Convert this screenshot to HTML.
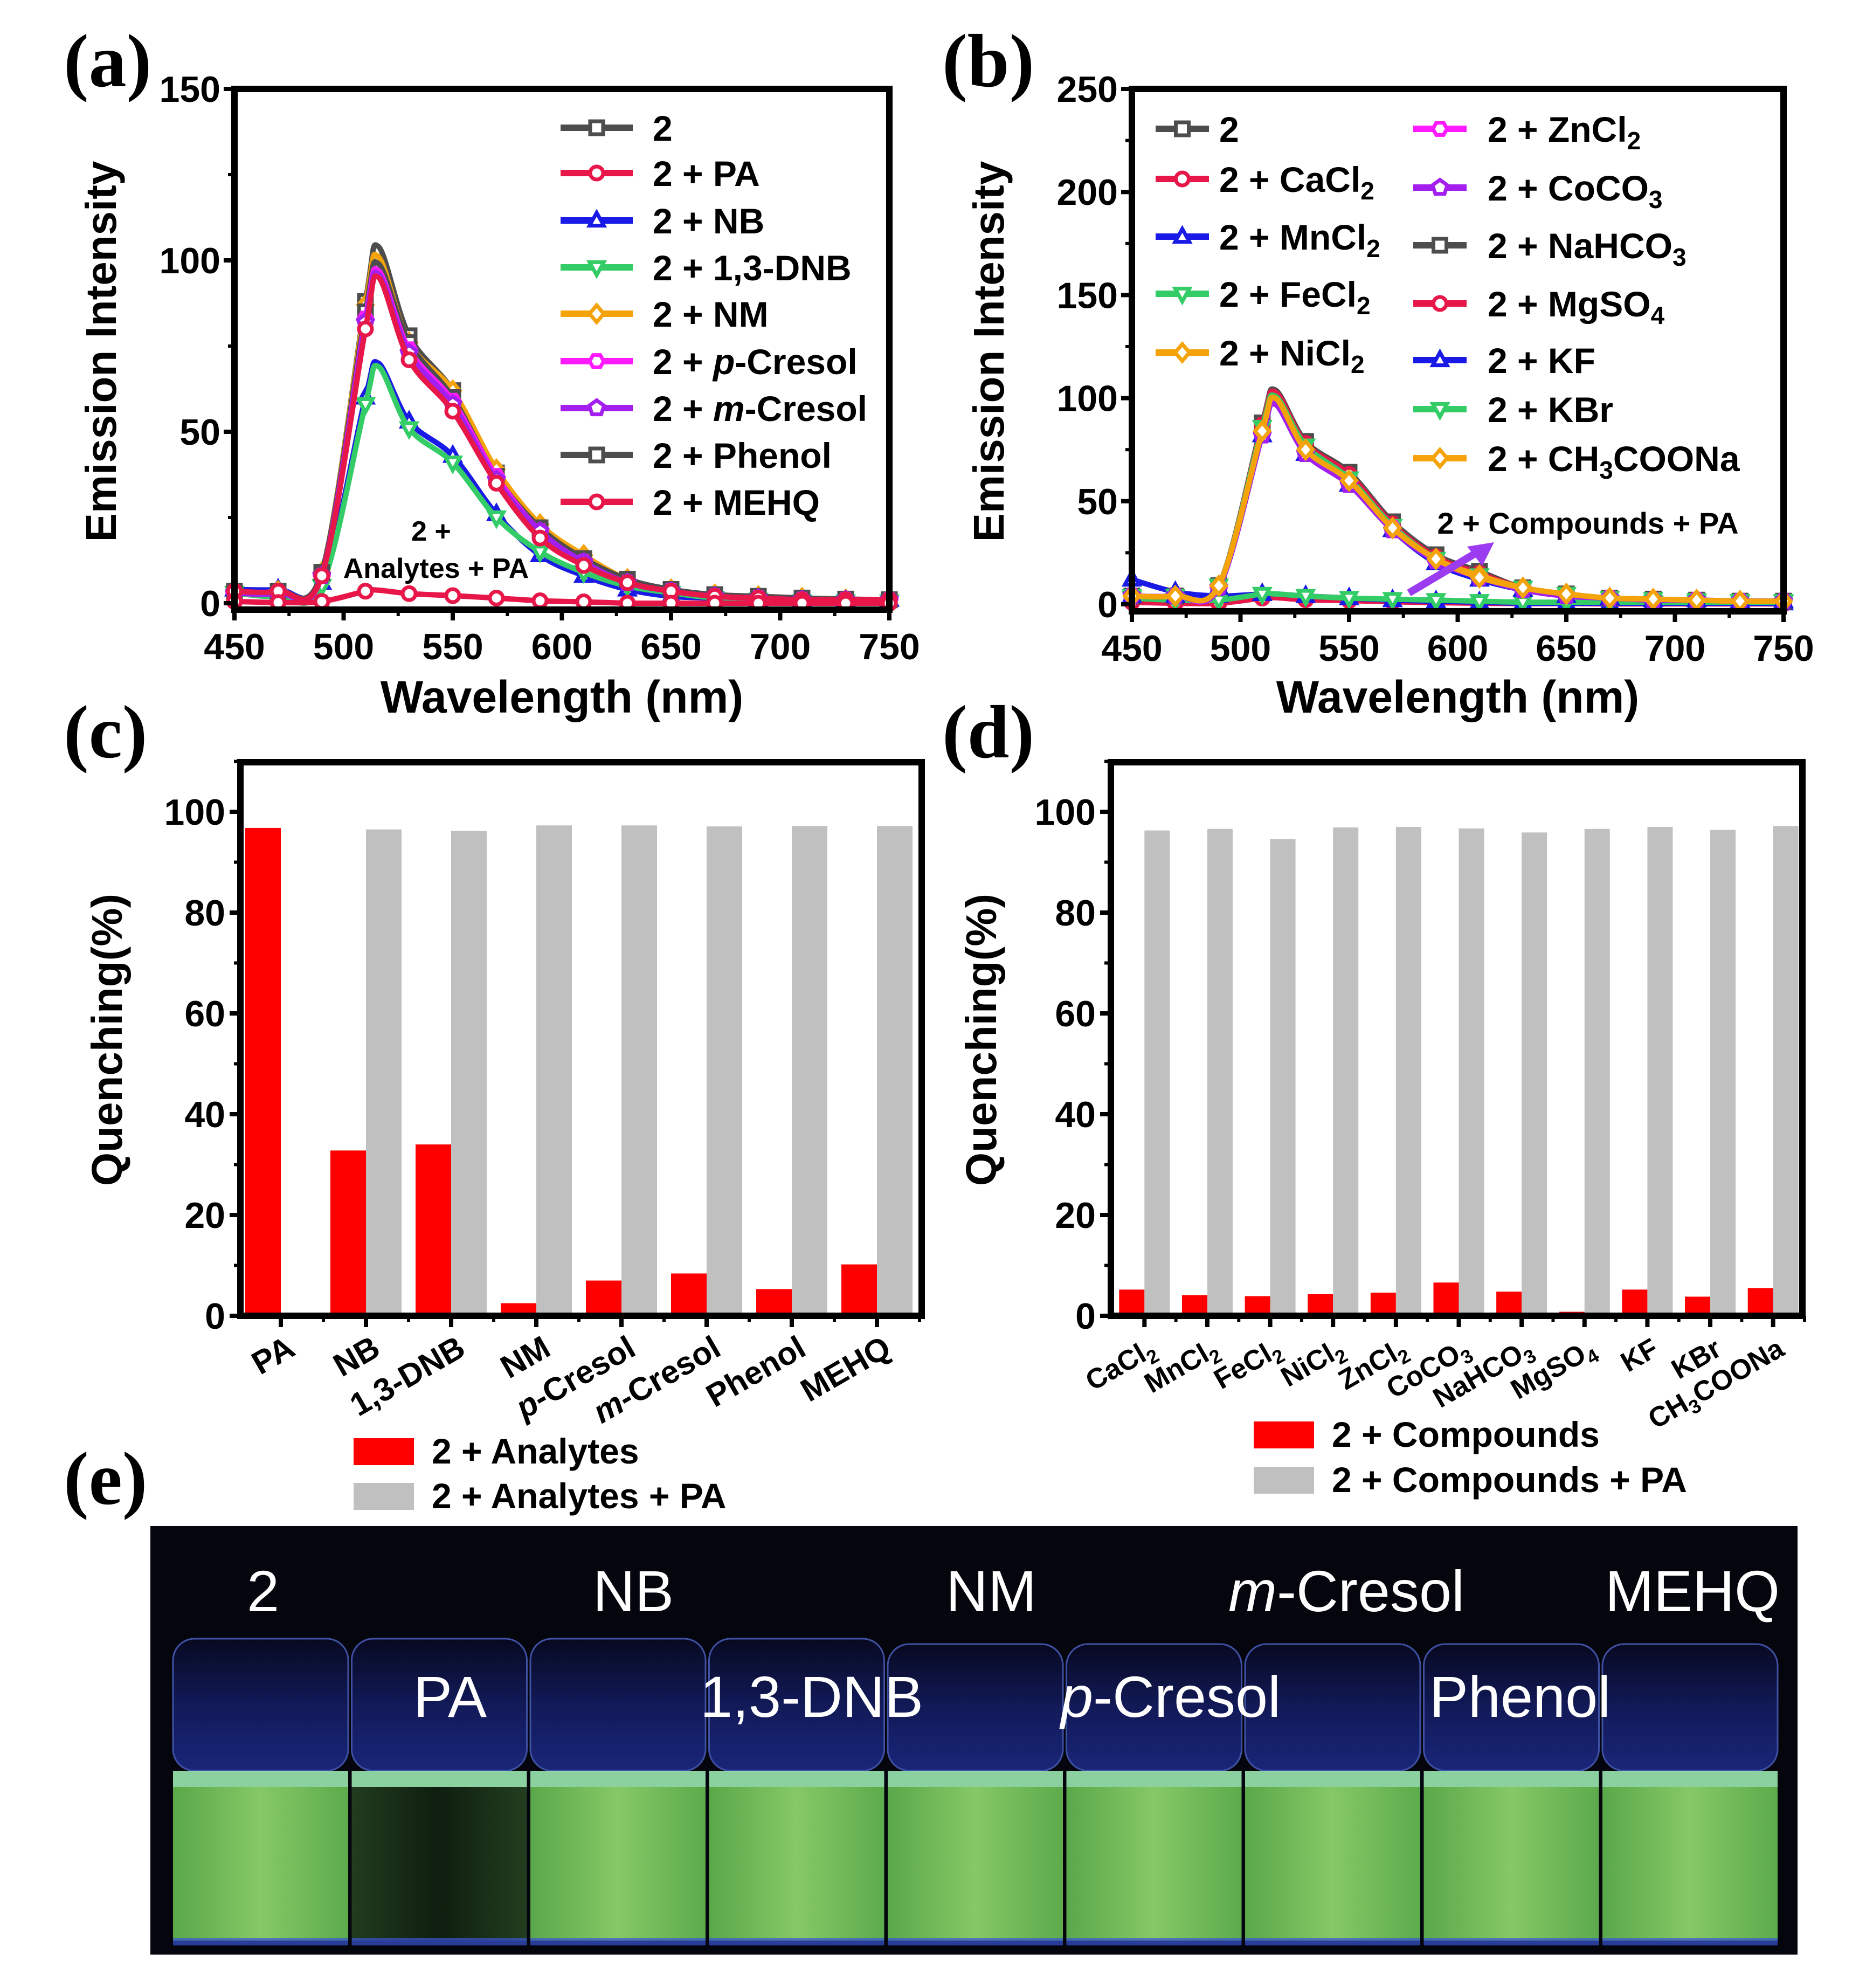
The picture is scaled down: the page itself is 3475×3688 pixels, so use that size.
<!DOCTYPE html>
<html><head><meta charset="utf-8"><style>
html,body{margin:0;padding:0;background:#fff;}
svg{display:block;font-family:"Liberation Sans",Arial,sans-serif;}
</style></head><body>
<svg id="fig" xmlns="http://www.w3.org/2000/svg" width="3475" height="3688" viewBox="0 0 3475 3688">
<defs>
<linearGradient id="glass" x1="0" y1="0" x2="0" y2="1"><stop offset="0" stop-color="#080a24"/><stop offset="0.5" stop-color="#151e66"/><stop offset="1" stop-color="#1e2c8c"/></linearGradient>
<linearGradient id="liq" x1="0" y1="0" x2="1" y2="0"><stop offset="0" stop-color="#5aa84a"/><stop offset="0.5" stop-color="#86c866"/><stop offset="1" stop-color="#5cab4c"/></linearGradient>
<linearGradient id="liqd" x1="0" y1="0" x2="1" y2="0"><stop offset="0" stop-color="#213c1e"/><stop offset="0.5" stop-color="#0f1e0f"/><stop offset="1" stop-color="#223e1f"/></linearGradient>
</defs>
<g font-family="Liberation Serif,serif" font-size="140" font-weight="bold" fill="#000">
<text x="118" y="160">(a)</text>
<text x="1748" y="160">(b)</text>
<text x="118" y="1405">(c)</text>
<text x="1748" y="1405">(d)</text>
<text x="118" y="2790">(e)</text>
</g>
</svg>
<script>
const NS="http://www.w3.org/2000/svg";
const svg=document.getElementById('fig');
function mk(tag,attrs,parent){const e=document.createElementNS(NS,tag);for(const k in attrs)e.setAttribute(k,attrs[k]);(parent||svg).appendChild(e);return e;}

// ---------- Panel (a) data ----------
const wlA=[450,470,490,510,516,530,550,570,590,610,630,650,670,690,710,730,750];
const sA_2=[3,3,9,88,104,78,62,38,22,13,7,4,2.5,2,1.5,1.2,1];
const sA_PA=[0.5,0.2,0.5,3.5,3.8,2.8,2.2,1.5,0.7,0.4,0,0,0,0,0,0,0];
const sA_NB=[4,4,6,60,70,53,43,26,14,8,4,2,1.5,1,1,1,1];
const sA_DNB=[3,2,5,58,69,51,41,25,15,9,5,3,1.5,1,0.5,0.5,0.5];
const sA_NM=[3.5,3.5,9,87,101,76,62,39,23,14,7,4,2.5,2,1.5,1,1];
const sA_pC=[3,3,8,83,97,74,59,37,21,12,6,3.5,2,1.5,1,1,1];
const sA_mC=[3,3,8,82,96,73,58,36,21,12,6,3.5,2,1.5,1,1,1];
const sA_Ph=[3.5,3.5,9,85,99,76,60,37,22,13,7,4,2.5,2,1.5,1,1];
const sA_ME=[3.5,3.5,8,80,95,71,56,35,19,11,6,3.5,2,1.5,1,1,1];
const ticksAy=[0,50,100,150];
const ticksX=[450,500,550,600,650,700,750];

// ---------- Panel (b) data ----------
const sB_2=[4,4,9,88,104,79,64,40,24,16,8,5,3,2.5,2,1.5,1.5];
const sB_Ca=[4,4,9,87,103,78,63,39,23,15,8,5,3,2.5,2,1.5,1.5];
const sB_Mn=[4,4,8,82,97,73,58,36,20,12,7,4,3,2,2,1.5,1.5];
const sB_Fe=[4,4,9,86,101,77,61,38,22,14,8,5,3,2.5,2,1.5,1.5];
const sB_Zn=[4,4,8,83,98,74,59,37,21,13,7,4,3,2,2,1.5,1.5];
const sB_Co=[4,4,8,82,97,73,58,36,21,13,7,4,3,2,2,1.5,1.5];
const sB_Na=[4,4,9,87,103,78,64,40,24,15,8,5,3,2.5,2,1.5,1.5];
const sB_Ni=[4,4,9,84,100,75,60,37,22,14,8,5,3,2.5,2,1.5,1.5];
const sB_Mg=[1,0.5,0.5,3,3.2,2.2,1.8,1.2,0.8,0.5,0.3,0.3,0.2,0.2,0.2,0.2,0.2];
const sB_KF=[12,6,4,5,5,4,3,2,1.5,1,0.5,0.5,0.5,0.5,0.5,0.5,0.5];
const sB_KBr=[3,2,2,5,5,4,3,2.5,2,1.5,1,1,1,1,1,1,1];
const sB_Ac=[4,4,9,84,100,75,60,37,22,13,8,5,3,2.5,2,1.5,1.5];
const ticksBy=[0,50,100,150,200,250];

// ---------- Panel (c) data ----------
const catsC=['PA','NB','1,3-DNB','NM','p-Cresol','m-Cresol','Phenol','MEHQ'];
const redC=[96.8,32.8,34,2.5,7,8.4,5.3,10.2];
const grayC=[0,96.5,96.2,97.3,97.3,97.1,97.2,97.2];
const ticksQ=[0,20,40,60,80,100];

// ---------- Panel (d) data ----------
const catsD=[['CaCl','2'],['MnCl','2'],['FeCl','2'],['NiCl','2'],['ZnCl','2'],['CoCO','3'],['NaHCO','3'],['MgSO','4'],['KF',''],['KBr',''],['CH','3','COONa']];
const redD=[5.2,4.1,3.9,4.3,4.6,6.6,4.8,0.8,5.2,3.8,5.5];
const grayD=[96.3,96.6,94.6,96.9,97.0,96.7,95.9,96.6,97.0,96.4,97.2];

// ---------- helpers ----------
function spline(pts){let d='M'+pts[0][0]+','+pts[0][1];for(let i=0;i<pts.length-1;i++){const p0=pts[i-1]||pts[i],p1=pts[i],p2=pts[i+1],p3=pts[i+2]||p2;const c1x=p1[0]+(p2[0]-p0[0])/6,c1y=p1[1]+(p2[1]-p0[1])/6,c2x=p2[0]-(p3[0]-p1[0])/6,c2y=p2[1]-(p3[1]-p1[1])/6;d+=' C'+c1x+','+c1y+' '+c2x+','+c2y+' '+p2[0]+','+p2[1];}return d;}
function marker(g,type,x,y,color,r){r=r||10;let e;
 if(type==='sq')e=mk('rect',{x:x-r,y:y-r,width:2*r,height:2*r},g);
 else if(type==='ci')e=mk('circle',{cx:x,cy:y,r:r},g);
 else if(type==='tu')e=mk('polygon',{points:`${x},${y-r*1.2} ${x+r*1.1},${y+r*0.8} ${x-r*1.1},${y+r*0.8}`},g);
 else if(type==='td')e=mk('polygon',{points:`${x},${y+r*1.2} ${x+r*1.1},${y-r*0.8} ${x-r*1.1},${y-r*0.8}`},g);
 else if(type==='di')e=mk('polygon',{points:`${x},${y-r*1.3} ${x+r*1.1},${y} ${x},${y+r*1.3} ${x-r*1.1},${y}`},g);
 else if(type==='hx'){let p=[];for(let k=0;k<6;k++){const a=Math.PI/3*k;p.push((x+r*1.1*Math.cos(a))+','+(y+r*1.1*Math.sin(a)));}e=mk('polygon',{points:p.join(' ')},g);}
 else {let p=[];for(let k=0;k<5;k++){const a=-Math.PI/2+2*Math.PI/5*k;p.push((x+r*1.2*Math.cos(a))+','+(y+r*1.2*Math.sin(a)));}e=mk('polygon',{points:p.join(' ')},g);}
 e.setAttribute('fill','#fff');e.setAttribute('stroke',color);e.setAttribute('stroke-width','7');
 
 
 return e;}
function txt(g,s,x,y,size,anchor,extra){const t=mk('text',Object.assign({x:x,y:y,'font-size':size,'text-anchor':anchor||'start','font-weight':'bold'},extra||{}),g);t.textContent=s;return t;}

function linePanel(P){
 const g=mk('g',{});
 
 
 const X=v=>P.L+(v-450)/300*(P.R-P.L), Y=v=>P.y0-v/P.ymax*(P.y0-P.T);
 P.series.forEach(s=>{
  const sg=mk('g',{},g);
  
  
  const pts=wlA.map((w,i)=>[X(w),Y(s.v[i])]);
  const p=mk('path',{d:spline(pts),fill:'none',stroke:s.c,'stroke-width':10,'stroke-linejoin':'round'},sg);
  
  
  wlA.forEach((w,i)=>{if(w!==516)marker(sg,s.m,X(w),Y(s.v[i]),s.c,12);});
 });
 const fr=mk('rect',{x:P.L,y:P.T,width:P.R-P.L,height:P.B-P.T,fill:'none',stroke:'#000','stroke-width':12},g);
 
 
 P.yt.forEach(v=>{const y=Y(v);mk('line',{x1:P.L-20,x2:P.L,y1:y,y2:y,stroke:'#000','stroke-width':8},g);
  const t=txt(g,String(v),P.L-26,y+24,68,'end');
  
  });
 for(let i=0;i<P.yt.length-1;i++){const y=Y((P.yt[i]+P.yt[i+1])/2);mk('line',{x1:P.L-12,x2:P.L,y1:y,y2:y,stroke:'#000','stroke-width':6},g);}
 ticksX.forEach(v=>{const x=X(v);mk('line',{x1:x,x2:x,y1:P.B,y2:P.B+20,stroke:'#000','stroke-width':8},g);
  const t=txt(g,String(v),x,P.B+92,68,'middle');
  
  
  if(v<750){const xm=X(v+25);mk('line',{x1:xm,x2:xm,y1:P.B,y2:P.B+12,stroke:'#000','stroke-width':6},g);}});
 const yt=txt(g,'Emission Intensity',0,0,80,'middle',{transform:`translate(${P.ytx},652) rotate(-90)`});
 
 
 const xt=txt(g,'Wavelength (nm)',(P.L+P.R)/2,1322,84,'middle');
 
 
 P.legend.forEach(l=>{
  const lg=mk('g',{},g);
  
  
  mk('line',{x1:l.x,x2:l.x+l.w,y1:l.y,y2:l.y,stroke:l.c,'stroke-width':12},lg);
  marker(lg,l.m,l.x+l.w/2,l.y,l.c,12);
  const t=mk('text',{x:l.tx,y:l.y+24,'font-size':66,'font-weight':'bold'},lg);
  t.innerHTML=l.t;
 });
 return {g,X,Y};
}

const colors={k:'#4d4d4d',r:'#e8174a',b:'#1a1ae6',g:'#33cc66',o:'#f5a30a',m:'#ff1aff',p:'#a31ff0'};
const rowsA=[237,321,409,496,582,670,757,844,931];
const legA=[['2','sq','k'],['2 + PA','ci','r'],['2 + NB','tu','b'],['2 + 1,3-DNB','td','g'],['2 + NM','di','o'],['2 + <tspan font-style="italic">p</tspan>-Cresol','hx','m'],['2 + <tspan font-style="italic">m</tspan>-Cresol','pe','p'],['2 + Phenol','sq','k'],['2 + MEHQ','ci','r']].map((a,i)=>({t:a[0],m:a[1],c:colors[a[2]],x:1040,w:134,tx:1211,y:rowsA[i]}));
const A=linePanel({name:'panel-a-emission-chart',L:435,R:1650,T:165,B:1131,y0:1119,ymax:150,yt:ticksAy,ytx:215,
 series:[{key:'2+NB',v:sA_NB,m:'tu',c:colors.b},{key:'2+DNB',v:sA_DNB,m:'td',c:colors.g},{key:'2',v:sA_2,m:'sq',c:colors.k},{key:'2+NM',v:sA_NM,m:'di',c:colors.o},{key:'2+Phenol',v:sA_Ph,m:'sq',c:colors.k},{key:'2+pCresol',v:sA_pC,m:'hx',c:colors.m},{key:'2+mCresol',v:sA_mC,m:'pe',c:colors.p},{key:'2+MEHQ',v:sA_ME,m:'ci',c:colors.r},{key:'2+PA',v:sA_PA,m:'ci',c:colors.r}],
 legend:legA});
const ann=mk('g',{});


txt(ann,'2 +',800,1003,52,'middle');txt(ann,'Analytes + PA',809,1072,52,'middle');

const legB1=[['2','sq','k'],['2 + CaCl<tspan font-size="46" dy="14">2</tspan>','ci','r'],['2 + MnCl<tspan font-size="46" dy="14">2</tspan>','tu','b'],['2 + FeCl<tspan font-size="46" dy="14">2</tspan>','td','g'],['2 + NiCl<tspan font-size="46" dy="14">2</tspan>','di','o']].map((a,i)=>({t:a[0],m:a[1],c:colors[a[2]],x:2144,w:99,tx:2262,y:[239,332,439,545,654][i]}));
const legB2=[['2 + ZnCl<tspan font-size="46" dy="14">2</tspan>','hx','m'],['2 + CoCO<tspan font-size="46" dy="14">3</tspan>','pe','p'],['2 + NaHCO<tspan font-size="46" dy="14">3</tspan>','sq','k'],['2 + MgSO<tspan font-size="46" dy="14">4</tspan>','ci','r'],['2 + KF','tu','b'],['2 + KBr','td','g'],['2 + CH<tspan font-size="46" dy="14">3</tspan><tspan dy="-14">COONa</tspan>','di','o']].map((a,i)=>({t:a[0],m:a[1],c:colors[a[2]],x:2622,w:99,tx:2760,y:[239,348,455,563,668,759,850][i]}));
const B=linePanel({name:'panel-b-emission-chart',L:2100,R:3309,T:165,B:1134,y0:1121,ymax:250,yt:ticksBy,ytx:1862,
 series:[{key:'2+MgSO4',v:sB_Mg,m:'ci',c:colors.r},{key:'2+KF',v:sB_KF,m:'tu',c:colors.b},{key:'2+KBr',v:sB_KBr,m:'td',c:colors.g},{key:'2',v:sB_2,m:'sq',c:colors.k},{key:'2+NaHCO3',v:sB_Na,m:'sq',c:colors.k},{key:'2+CaCl2',v:sB_Ca,m:'ci',c:colors.r},{key:'2+FeCl2',v:sB_Fe,m:'td',c:colors.g},{key:'2+MnCl2',v:sB_Mn,m:'tu',c:colors.b},{key:'2+ZnCl2',v:sB_Zn,m:'hx',c:colors.m},{key:'2+CoCO3',v:sB_Co,m:'pe',c:colors.p},{key:'2+NiCl2',v:sB_Ni,m:'di',c:colors.o},{key:'2+CH3COONa',v:sB_Ac,m:'di',c:colors.o}],
 legend:legB1.concat(legB2)});
const arr=mk('g',{});


mk('line',{x1:2614,y1:1100,x2:2745,y2:1022,stroke:'#9b3cf0','stroke-width':14},arr);
mk('polygon',{points:'2772,1006 2722,1014 2750,1050',fill:'#9b3cf0'},arr);
txt(arr,'2 + Compounds + PA',2946,990,56,'middle');

// ---------- bar panels ----------
function barPanel(P){
 const g=mk('g',{});
 
 
 const Y=v=>2441-v*(2441-1506)/100;
 const n=P.red.length, step=(P.R-P.L)/n, X=i=>P.L+step*(i+0.5)+P.off;
 P.red.forEach((v,i)=>{const b=mk('rect',{x:X(i)-P.bw,y:Y(v),width:P.bw,height:Y(0)-Y(v),fill:'#ff0000'},g);
  
  });
 P.gray.forEach((v,i)=>{const b=mk('rect',{x:X(i),y:Y(v),width:P.bw,height:Y(0)-Y(v),fill:'#c0c0c0'},g);
  
  });
 const fr=mk('rect',{x:P.L,y:1414,width:P.R-P.L,height:2441-1414,fill:'none',stroke:'#000','stroke-width':12},g);
 
 
 ticksQ.forEach(v=>{const y=Y(v);mk('line',{x1:P.L-20,x2:P.L,y1:y,y2:y,stroke:'#000','stroke-width':8},g);
  mk('line',{x1:P.L-12,x2:P.L,y1:Y(v+10),y2:Y(v+10),stroke:'#000','stroke-width':6},g);
  const t=txt(g,String(v),P.L-28,y+24,68,'end');
  
  });
 P.red.forEach((v,i)=>{mk('line',{x1:X(i),x2:X(i),y1:2441,y2:2462,stroke:'#000','stroke-width':8},g);
  mk('line',{x1:X(i)+step/2,x2:X(i)+step/2,y1:2441,y2:2452,stroke:'#000','stroke-width':6},g);
  const t=mk('text',{x:0,y:0,'font-size':P.fs,'font-weight':'bold','text-anchor':'end',transform:`translate(${X(i)+P.lx},${2512+P.ly}) rotate(-30)`},g);
  t.innerHTML=P.lab(i);
  
  });
 const yt=txt(g,'Quenching(%)',0,0,80,'middle',{transform:`translate(${P.ytx},1929) rotate(-90)`});
 
 
 P.leg.forEach(l=>{const lg=mk('g',{},g);
  
  
  mk('rect',{x:l.x,y:l.y,width:112,height:50,fill:l.c},lg);
  txt(lg,l.t,l.x+145,l.y+47,66,'start');});
}
barPanel({name:'panel-c-quenching-chart',L:446,R:1710,off:-4,bw:66,red:redC,gray:grayC,fs:60,lx:30,ly:0,ytx:226,
 lab:i=>{const s=catsC[i];if(s[1]==='-')return `<tspan font-style="italic">${s[0]}</tspan>${s.slice(1)}`;return s;},
 leg:[{x:656,y:2668,c:'#ff0000',t:'2 + Analytes'},{x:656,y:2751,c:'#c0c0c0',t:'2 + Analytes + PA'}]});
barPanel({name:'panel-d-quenching-chart',L:2061,R:3344,off:4,bw:47,red:redD,gray:grayD,fs:52,lx:24,ly:0,ytx:1848,
 lab:i=>{const c=catsD[i];if(c.length===3)return `${c[0]}<tspan font-size="36" dy="12">${c[1]}</tspan><tspan dy="-12">${c[2]}</tspan>`;return c[1]?`${c[0]}<tspan font-size="36" dy="12">${c[1]}</tspan>`:c[0];},
 leg:[{x:2326,y:2637,c:'#ff0000',t:'2 + Compounds'},{x:2326,y:2721,c:'#c0c0c0',t:'2 + Compounds + PA'}]});

// ---------- photo (e) ----------
const ph=mk('g',{});


mk('rect',{x:279,y:2831,width:3056,height:795,fill:'#04050d'},ph);
const vialNames=['2','PA','NB','1,3-DNB','NM','p-Cresol','m-Cresol','Phenol','MEHQ'];
vialNames.forEach((nm,i)=>{
 const x=321+i*331.5, w=325;
 const v=mk('g',{},ph);
 
 
 const top=(i<4)?3040:3050;
 mk('rect',{x:x,y:top,width:w,height:3285-top,rx:40,fill:'url(#glass)',stroke:'#4a5fc0','stroke-width':3,opacity:0.85},v);
 mk('rect',{x:x,y:3285,width:w,height:30,fill:'#9ae8b0',opacity:0.9},v);
 mk('rect',{x:x,y:3315,width:w,height:285,fill:(nm==='PA')?'url(#liqd)':'url(#liq)'},v);
 mk('rect',{x:x,y:3595,width:w,height:14,fill:'#3b54d6',opacity:0.7},v);
});
const labs=[['2',488,2989,'middle'],['NB',1175,2989,'middle'],['NM',1839,2989,'middle'],['<tspan font-style="italic">m</tspan>-Cresol',2498,2989,'middle'],['MEHQ',3140,2989,'middle'],['PA',835,3185,'middle'],['1,3-DNB',1506,3185,'middle'],['<tspan font-style="italic">p</tspan>-Cresol',2172,3185,'middle'],['Phenol',2820,3185,'middle']];
labs.forEach(l=>{const t=mk('text',{x:l[1],y:l[2],'font-size':108,fill:'#fff','text-anchor':l[3]},ph);t.innerHTML=l[0];
 
 });
</script>
</body></html>
